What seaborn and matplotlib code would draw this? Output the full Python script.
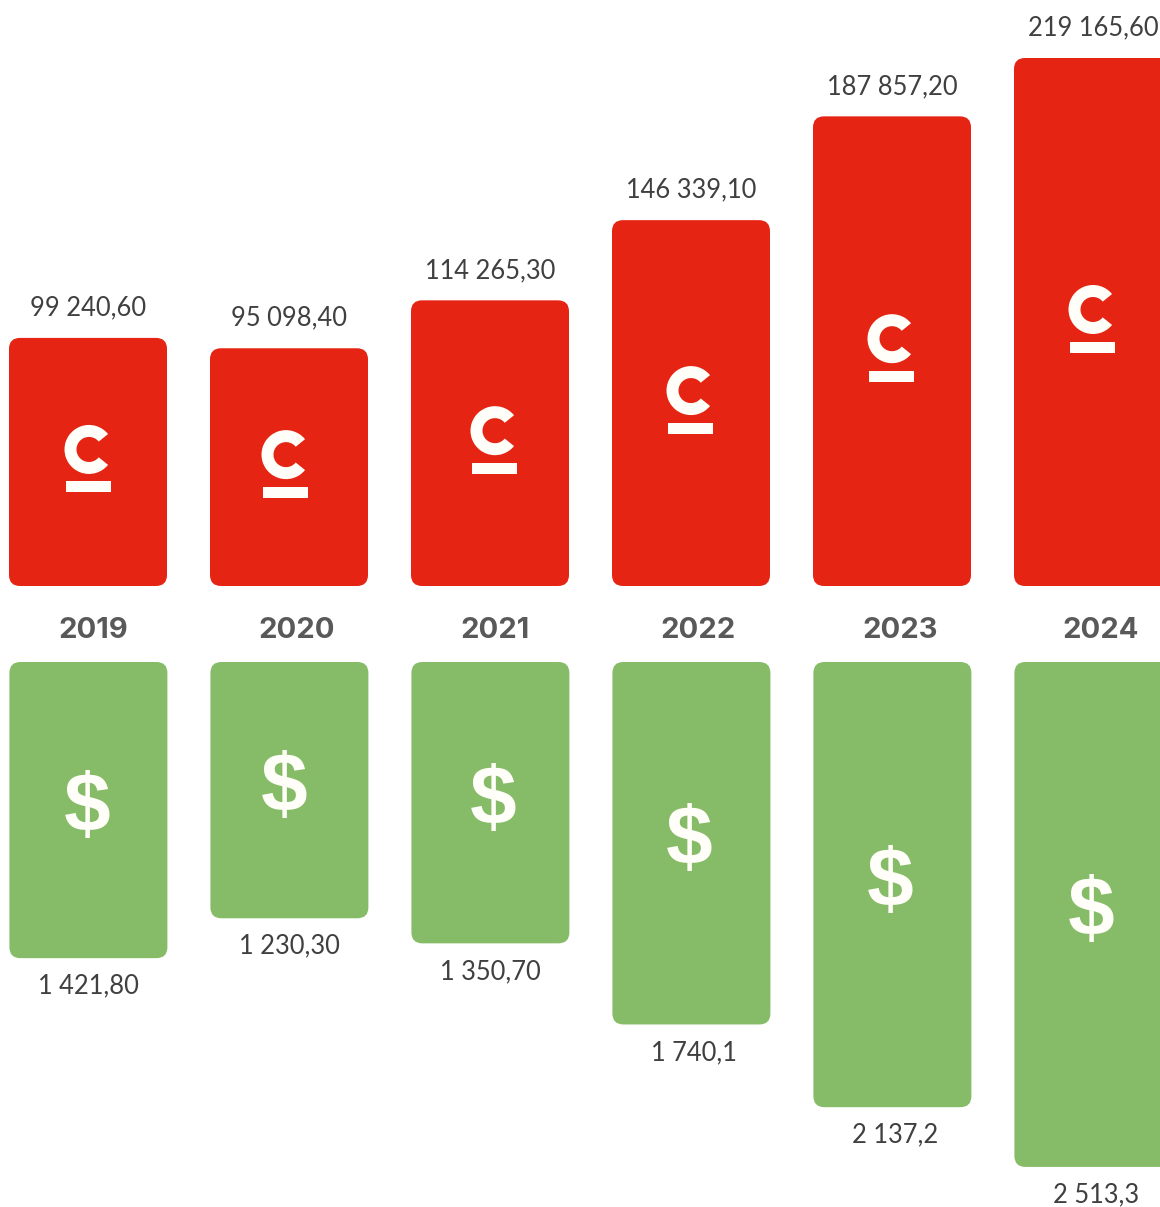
import matplotlib
matplotlib.use("Agg")
import matplotlib.pyplot as plt
from matplotlib.patches import FancyBboxPatch, Wedge, Rectangle
import seaborn as sns
import pandas as pd

years = ["2019", "2020", "2021", "2022", "2023", "2024"]
# Bar lengths (the 2024 bars are drawn shorter than their labels)
red_heights = [99240.6, 95098.4, 114265.3, 146339.1, 187857.2, 211200.0]
green_heights = [1421.8, 1230.3, 1350.7, 1740.1, 2137.2, 2424.0]
red_labels = ["99 240,60", "95 098,40", "114 265,30", "146 339,10", "187 857,20", "219 165,60"]
green_labels = ["1 421,80", "1 230,30", "1 350,70", "1 740,1", "2 137,2", "2 513,3"]

W, H = 1160, 1207
RED, GREEN = "#E52413", "#86BC67"
ICON = "#FFFEF8"
STEP, BAR_W, X0 = 201, 158, 88
RED_BASE, GREEN_BASE = 586, 662
RED_SCALE, GREEN_SCALE = 0.0025, 0.2083

# per-column nudges in pixels
year_dx = [5, 8, 5, 7, 8, 8]
icon_dx = [0, -4, 4, -1, -1, -1]
green_label_dx = [0, 0, 0, 3, 3, 3]

sns.set_theme(style="white")
plt.rcParams["font.family"] = ["Lato", "DejaVu Sans"]
fig = plt.figure(figsize=(W / 100, H / 100), dpi=100, facecolor="white")

ax_r = fig.add_axes([0, 1 - RED_BASE / H, 1, RED_BASE / H])
ax_g = fig.add_axes([0, 0, 1, 1 - GREEN_BASE / H])
ov = fig.add_axes([0, 0, 1, 1], zorder=5)
ov.set_xlim(0, W); ov.set_ylim(H, 0); ov.axis("off"); ov.patch.set_alpha(0)

xlim = (-X0 / STEP, (W - X0) / STEP)
sns.barplot(data=pd.DataFrame({"y": years, "v": red_heights}), x="y", y="v", color=RED,
            saturation=1, width=BAR_W / STEP, ax=ax_r)
sns.barplot(data=pd.DataFrame({"y": years, "v": green_heights}), x="y", y="v", color=GREEN,
            saturation=1, width=BAR_W / STEP, ax=ax_g)
ax_r.set_ylim(0, RED_BASE / RED_SCALE)
ax_g.set_ylim((H - GREEN_BASE) / GREEN_SCALE, 0)


def round_bars(ax, color, y_per_px):
    bars = list(ax.patches)
    for b in bars:
        x, y, w, h = b.get_x(), b.get_y(), b.get_width(), b.get_height()
        b.remove()
        ax.add_patch(FancyBboxPatch((x, y), w, h, boxstyle=f"round,pad=0,rounding_size={11 / STEP}",
                                    mutation_aspect=y_per_px * STEP, fc=color, ec="none"))


ax_r.set_xlim(*xlim)
ax_g.set_xlim(xlim[0] - 0.4 / STEP, xlim[1] - 0.4 / STEP)
for ax, c, s in ((ax_r, RED, 1 / RED_SCALE), (ax_g, GREEN, 1 / GREEN_SCALE)):
    round_bars(ax, c, s)
    ax.axis("off")

for i, yr in enumerate(years):
    cx = X0 + i * STEP
    rtop = RED_BASE - red_heights[i] * RED_SCALE
    gbot = GREEN_BASE + green_heights[i] * GREEN_SCALE
    ov.text(cx, rtop - 30, red_labels[i], ha="center", va="center", fontsize=18.4, color="#404040")
    ov.text(cx + green_label_dx[i], gbot + 28, green_labels[i], ha="center", va="center", fontsize=18.4, color="#404040")
    ov.text(cx + year_dx[i], 630.5, yr, ha="center", va="center", fontsize=21, fontweight="bold",
            family="Inter", color="#595959")
    # "C" logo with underline
    ix = cx + icon_dx[i]
    cy = (RED_BASE + rtop) / 2 - 3
    ov.add_patch(Wedge((ix + 1, cy - 9.5), 24.5, 39, 321, width=12, fc=ICON, ec="none"))
    ov.add_patch(Rectangle((ix - 22.5, cy + 22.5), 45.5, 11, fc=ICON, ec="none"))
    # dollar icon
    gy = (GREEN_BASE + gbot) / 2
    ov.text(ix - 0.5, gy, "$", ha="center", va="center", fontsize=60.5, fontweight="bold",
            family="Liberation Sans", color=ICON)

fig.savefig("out.png", dpi=100)
